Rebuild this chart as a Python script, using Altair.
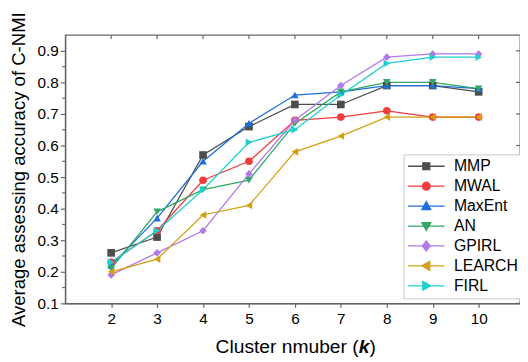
import altair as alt
import pandas as pd

# ---- data ----
k = [2, 3, 4, 5, 6, 7, 8, 9, 10]
series = ["MMP", "MWAL", "MaxEnt", "AN", "GPIRL", "LEARCH", "FIRL"]
MMP = [0.26, 0.31, 0.57, 0.66, 0.73, 0.73, 0.79, 0.79, 0.77]
MWAL = [0.23, 0.33, 0.49, 0.55, 0.68, 0.69, 0.71, 0.69, 0.69]
MaxEnt = [0.22, 0.37, 0.55, 0.67, 0.76, 0.77, 0.79, 0.79, 0.78]
AN = [0.21, 0.39, 0.46, 0.49, 0.67, 0.77, 0.80, 0.80, 0.78]
GPIRL = [0.19, 0.26, 0.33, 0.51, 0.68, 0.79, 0.88, 0.89, 0.89]
LEARCH = [0.20, 0.24, 0.38, 0.41, 0.58, 0.63, 0.69, 0.69, 0.69]
FIRL = [0.23, 0.33, 0.46, 0.61, 0.65, 0.76, 0.86, 0.88, 0.88]
x_ticks = [2, 3, 4, 5, 6, 7, 8, 9, 10]
y_ticks = [0.1, 0.2, 0.3, 0.4, 0.5, 0.6, 0.7, 0.8, 0.9]
y_minor = [0.15, 0.25, 0.35, 0.45, 0.55, 0.65, 0.75, 0.85]

values = {"MMP": MMP, "MWAL": MWAL, "MaxEnt": MaxEnt, "AN": AN,
          "GPIRL": GPIRL, "LEARCH": LEARCH, "FIRL": FIRL}

# ---- styles ----
colors = ["#4d4d4d", "#f03c3c", "#1e6fdc", "#30a866", "#b27ae6", "#d4a012", "#1fcfcf"]
shapes = ["square", "circle", "triangle-up", "triangle-down", "diamond",
          "triangle-left", "triangle-right"]
line_part = "M-3.7,0H3.7"
legend_paths = [
    line_part + "M-0.7,-0.7H0.7V0.7H-0.7Z",
    line_part + "M0.8,0A0.8,0.8,0,1,1,-0.8,0A0.8,0.8,0,1,1,0.8,0Z",
    line_part + "M0,-0.9L0.9,0.7L-0.9,0.7Z",
    line_part + "M0,0.9L0.9,-0.7L-0.9,-0.7Z",
    line_part + "M0,-1L0.8,0L0,1L-0.8,0Z",
    line_part + "M-0.9,0L0.7,-0.9L0.7,0.9Z",
    line_part + "M0.9,0L-0.7,-0.9L-0.7,0.9Z",
]

FONT = "Liberation Sans"
FRAME = "#666666"
W, H = 461, 272

rows = [{"k": kk, "v": v, "series": s} for s in series for kk, v in zip(k, values[s])]
df = pd.DataFrame(rows)

x_scale = alt.Scale(domain=[1, 10.9], nice=False, zero=False)
y_scale = alt.Scale(domain=[0.1, 0.95], nice=False, zero=False)

x_axis = alt.Axis(values=x_ticks, format="d", tickSize=4, labelPadding=4,
                  labelFontSize=15.5, labelFont=FONT, labelColor="#000",
                  grid=False, domainColor=FRAME, tickColor=FRAME,
                  domainWidth=1.3, tickWidth=1.2, title="")
y_axis = alt.Axis(values=y_ticks, format=".1f", tickSize=5, labelPadding=2,
                  labelFontSize=15.5, labelFont=FONT, labelColor="#000",
                  grid=False, domainColor=FRAME, tickColor=FRAME,
                  domainWidth=1.3, tickWidth=1.2,
                  title="Average assessing accuracy of C-NMI",
                  titleFont=FONT, titleFontSize=18.8, titleFontWeight="normal",
                  titleColor="#000", titlePadding=9)

X = alt.X("k:Q", scale=x_scale, axis=x_axis)
Y = alt.Y("v:Q", scale=y_scale, axis=y_axis)

layers = []
for i, s in enumerate(series):
    base = alt.Chart(df).transform_filter(alt.datum.series == s)
    layers.append(base.mark_line(color=colors[i], strokeWidth=1.3).encode(
        x=X, y=Y, order="k:Q"))
for i, s in enumerate(series):
    base = alt.Chart(df).transform_filter(alt.datum.series == s)
    layers.append(base.mark_point(shape=shapes[i], color=colors[i], filled=True,
                                  opacity=1, size=60).encode(x=X, y=Y))

leg = alt.Legend(title=None, orient="none", legendX=343, legendY=121, padding=4,
                 rowPadding=4.2, symbolSize=100, symbolStrokeWidth=1.3,
                 symbolOffset=11, labelOffset=20, labelFontSize=16, labelFont=FONT,
                 labelColor="#000", strokeColor="#c8c8c8", fillColor="white",
                 labelLimit=200, symbolOpacity=1)
legend_layer = alt.Chart(df).mark_point(opacity=0, filled=True).encode(
    x=X, y=Y,
    fill=alt.Fill("series:N", scale=alt.Scale(domain=series, range=colors), legend=leg),
    stroke=alt.Stroke("series:N", scale=alt.Scale(domain=series, range=colors), legend=leg),
    shape=alt.Shape("series:N", scale=alt.Scale(domain=series, range=legend_paths), legend=leg),
)
layers.append(legend_layer)

# mirrored / minor ticks
top_ticks = alt.Chart(pd.DataFrame({"k": x_ticks})).mark_rule(color=FRAME, strokeWidth=1.2).encode(
    x=X, y=alt.value(0), y2=alt.value(4))
right_ticks = alt.Chart(pd.DataFrame({"v": y_ticks})).mark_rule(color=FRAME, strokeWidth=1.2).encode(
    y=Y, x=alt.value(W - 4), x2=alt.value(W))
minor_ticks = alt.Chart(pd.DataFrame({"v": y_minor})).mark_rule(color=FRAME, strokeWidth=1.2).encode(
    y=Y, x=alt.value(-3), x2=alt.value(0))
layers += [top_ticks, right_ticks, minor_ticks]

# x-axis title with bold italic k
t1 = alt.Chart(pd.DataFrame({"t": ["Cluster nmuber ("]})).mark_text(
    align="right", baseline="alphabetic", font=FONT, fontSize=19.5, color="#000").encode(
    text="t:N", x=alt.value(297.5), y=alt.value(322))
t2 = alt.Chart(pd.DataFrame({"t": ["k"]})).mark_text(
    align="left", baseline="alphabetic", font=FONT, fontSize=19.5, fontWeight="bold",
    fontStyle="italic", color="#000").encode(
    text="t:N", x=alt.value(297.5), y=alt.value(322))
t3 = alt.Chart(pd.DataFrame({"t": [")"]})).mark_text(
    align="left", baseline="alphabetic", font=FONT, fontSize=19.5, color="#000").encode(
    text="t:N", x=alt.value(308.5), y=alt.value(322))
layers += [t1, t2, t3]

chart = alt.layer(*layers).properties(
    width=W, height=H,
    autosize=alt.AutoSizeParams(type="none"),
    padding={"left": 58, "top": 25, "right": 0, "bottom": 54},
).configure(font=FONT).configure_view(stroke=FRAME, strokeWidth=1.3)

chart.save("out.html", embed_options={"renderer": "svg", "actions": False})
